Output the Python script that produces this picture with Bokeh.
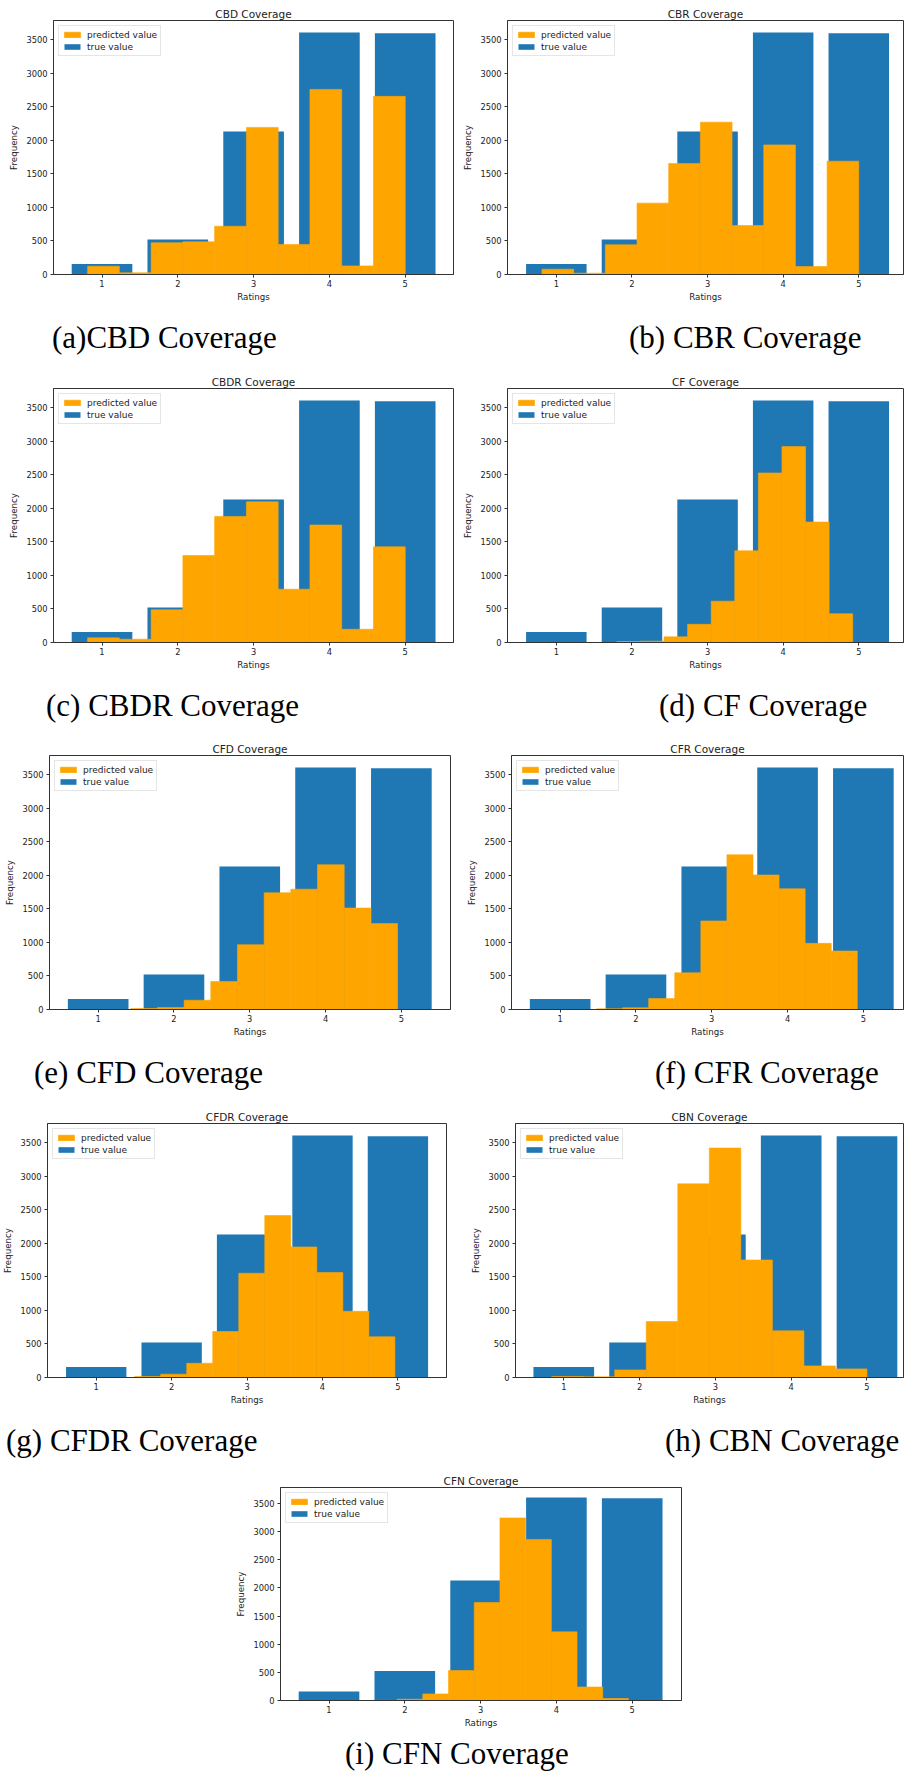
from bokeh.plotting import figure
from bokeh.models import Range1d, Legend, LegendItem, Div, FixedTicker
from bokeh.layouts import column, row
from bokeh.embed import file_html
from bokeh.resources import INLINE
import numpy as np

# ---------------- data ----------------
ratings = [1, 2, 3, 4, 5]
true_counts = [158, 522, 2130, 3604, 3594]

titles = ["CBD Coverage", "CBR Coverage", "CBDR Coverage", "CF Coverage",
          "CFD Coverage", "CFR Coverage", "CFDR Coverage", "CBN Coverage",
          "CFN Coverage"]
captions = ["(a)CBD Coverage", "(b) CBR Coverage", "(c) CBDR Coverage",
            "(d) CF Coverage", "(e) CFD Coverage", "(f) CFR Coverage",
            "(g) CFDR Coverage", "(h) CBN Coverage", "(i) CFN Coverage"]

# predicted-rating histogram: value range (min, max) and the 10 bin counts
pred_cbd_range = (0.81, 5.0)
pred_cbd = [123, 25, 473, 487, 719, 2191, 448, 2757, 128, 2653]
pred_cbr_range = (0.81, 5.0)
pred_cbr = [79, 20, 443, 1063, 1654, 2269, 729, 1930, 118, 1688]
pred_cbdr_range = (0.81, 5.0)
pred_cbdr = [69, 49, 488, 1296, 1878, 2095, 794, 1750, 197, 1425]
pred_cf_range = (1.80, 4.92)
pred_cf = [15, 20, 84, 271, 616, 1366, 2525, 2918, 1794, 429]
pred_cfd_range = (1.43, 4.95)
pred_cfd = [15, 30, 138, 418, 965, 1738, 1792, 2156, 1511, 1280]
pred_cfr_range = (1.48, 4.92)
pred_cfr = [10, 25, 162, 546, 1319, 2304, 2003, 1797, 985, 871]
pred_cfdr_range = (1.51, 4.96)
pred_cfdr = [15, 49, 212, 685, 1553, 2412, 1944, 1563, 986, 606]
pred_cbn_range = (0.84, 5.0)
pred_cbn = [15, 10, 113, 833, 2884, 3417, 1750, 695, 173, 128]
pred_cfn_range = (1.56, 4.95)
pred_cfn = [3, 23, 117, 533, 1741, 3242, 2861, 1219, 240, 35]

pred_ranges = [pred_cbd_range, pred_cbr_range, pred_cbdr_range, pred_cf_range,
               pred_cfd_range, pred_cfr_range, pred_cfdr_range, pred_cbn_range,
               pred_cfn_range]
pred_counts = [pred_cbd, pred_cbr, pred_cbdr, pred_cf, pred_cfd, pred_cfr,
               pred_cfdr, pred_cbn, pred_cfn]

y_ticks = [0, 500, 1000, 1500, 2000, 2500, 3000, 3500]

# ---------------- layout / style ----------------
PX_PER_UNIT = 75.8
Y_MAX = 3783
TOP, BOTTOM = 20, 28
BLUE = "#1f77b4"
ORANGE = "#ffa500"
SPINE = "#333333"
TXT = "#222222"
SANS = "DejaVu Sans"
LEFT_W, RIGHT_W, FULL_W = 460, 444, 904

# (figure width, border left, border right, x start, frame height)
panel_layout = [
    (LEFT_W, 53, 7, 0.36, 256), (RIGHT_W, 46, 1, 0.354, 256),
    (LEFT_W, 53, 7, 0.36, 256), (RIGHT_W, 46, 1, 0.354, 256),
    (LEFT_W, 49, 10, 0.358, 256), (RIGHT_W, 51, 1, 0.358, 256),
    (LEFT_W, 45, 14, 0.354, 256), (RIGHT_W, 55, 1, 0.363, 256),
    (FULL_W, 280, 223, 0.36, 215),
]


def make_panel(i):
    width, bl, br, xs, fh = panel_layout[i]
    fw = width - bl - br
    xe = xs + fw / PX_PER_UNIT
    p = figure(width=width, height=TOP + fh + BOTTOM,
               x_range=Range1d(xs, xe), y_range=Range1d(0, Y_MAX),
               output_backend="svg", toolbar_location=None,
               min_border_left=bl, min_border_right=br,
               min_border_top=TOP, min_border_bottom=BOTTOM,
               title=titles[i])
    p.title.align = "center"
    p.title.text_font = SANS
    p.title.text_font_size = "10.5px"
    p.title.text_font_style = "normal"
    p.title.text_color = TXT
    p.title.standoff = 2

    rt = p.vbar(x=ratings, top=true_counts, width=0.8, fill_color=BLUE,
                line_color=None)
    lo, hi = pred_ranges[i]
    edges = np.linspace(lo, hi, len(pred_counts[i]) + 1)
    rp = p.quad(left=edges[:-1], right=edges[1:], bottom=0, top=pred_counts[i],
                fill_color=ORANGE, line_color=ORANGE, line_width=0.6)

    p.xgrid.visible = False
    p.ygrid.visible = False
    p.outline_line_color = SPINE
    p.outline_line_width = 1

    p.xaxis.ticker = FixedTicker(ticks=ratings)
    p.yaxis.ticker = FixedTicker(ticks=y_ticks)
    p.xaxis.axis_label = "Ratings"
    p.yaxis.axis_label = "Frequency"
    for ax in (p.xaxis, p.yaxis):
        ax.axis_line_color = SPINE
        ax.major_tick_line_color = SPINE
        ax.major_tick_out = 3
        ax.major_tick_in = 0
        ax.minor_tick_line_color = None
        ax.major_label_text_font = SANS
        ax.major_label_text_font_size = "8.3px"
        ax.major_label_text_color = TXT
        ax.axis_label_text_font = SANS
        ax.axis_label_text_font_size = "8.7px"
        ax.axis_label_text_font_style = "normal"
        ax.axis_label_text_color = TXT
    p.xaxis.major_label_standoff = 2
    p.xaxis.axis_label_standoff = 2
    p.yaxis.major_label_standoff = 3
    p.yaxis.axis_label_standoff = 4

    legend = Legend(items=[LegendItem(label="predicted value", renderers=[rp]),
                           LegendItem(label="true value", renderers=[rt])],
                    location="top_left")
    legend.label_text_font = SANS
    legend.label_text_font_size = "9px"
    legend.label_text_color = TXT
    legend.glyph_width = 20
    legend.glyph_height = 7
    legend.label_height = 11
    legend.label_standoff = 5
    legend.spacing = 1
    legend.padding = 3
    legend.margin = 5
    legend.border_line_color = "#cccccc"
    legend.border_line_width = 1
    legend.background_fill_alpha = 0.8
    p.add_layout(legend)
    return p


def caption_div(text, width, height, pad_left, pad_top):
    html = ('<div style="width:%dpx;height:%dpx;overflow:hidden;white-space:nowrap;'
            'box-sizing:border-box;padding-left:%dpx;padding-top:%dpx;'
            "font-family:'Liberation Serif';font-size:31px;line-height:31px;"
            'color:#000000;">%s</div>') % (width, height, pad_left, pad_top, text)
    return Div(text=html, width=width, height=height, margin=0)


panels = [make_panel(i) for i in range(9)]

layout = column(
    row(panels[0], panels[1]),
    row(caption_div(captions[0], LEFT_W, 64, 52, 18),
        caption_div(captions[1], RIGHT_W, 64, 169, 18)),
    row(panels[2], panels[3]),
    row(caption_div(captions[2], LEFT_W, 63, 46, 18),
        caption_div(captions[3], RIGHT_W, 63, 199, 18)),
    row(panels[4], panels[5]),
    row(caption_div(captions[4], LEFT_W, 64, 34, 18),
        caption_div(captions[5], RIGHT_W, 64, 195, 18)),
    row(panels[6], panels[7]),
    row(caption_div(captions[6], LEFT_W, 60, 6, 18),
        caption_div(captions[7], RIGHT_W, 60, 205, 18)),
    panels[8],
    caption_div(captions[8], FULL_W, 43, 345, 8),
)

open("out.html", "w").write(file_html(layout, INLINE))
